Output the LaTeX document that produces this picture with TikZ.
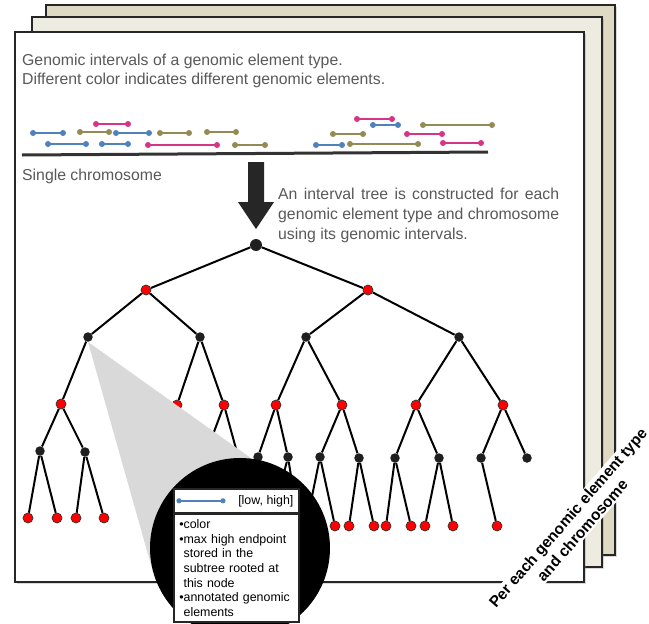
\documentclass[tikz,border=0pt]{standalone}
\usepackage{fontspec}
\setmainfont{Liberation Sans}
\usepackage{tikz}
\usetikzlibrary{positioning,shadows}

\definecolor{ivblue}{RGB}{79,129,189}
\definecolor{ivolive}{RGB}{148,138,84}
\definecolor{ivpink}{RGB}{214,52,134}
\definecolor{pagetan}{RGB}{221,217,195}
\definecolor{pagecream}{RGB}{238,236,225}
\definecolor{textgray}{RGB}{89,89,89}
\definecolor{conegray}{RGB}{217,217,217}
\definecolor{arrowgray}{RGB}{38,38,38}

\begin{document}
\begin{tikzpicture}[x=1pt,y=-1pt,
   page/.style={draw=black!85,line width=1.8pt,
     drop shadow={shadow xshift=1.5pt,shadow yshift=-1.5pt,opacity=.3}},
   caption/.style={anchor=north west,inner sep=0pt,text=textgray,
     font=\fontsize{15.8}{19}\selectfont},
   ival/.style={line width=2pt},
   branch/.style={line width=2pt},
   rednode/.style={circle,draw=black!80,fill=red,line width=.7pt,
     inner sep=0pt,minimum size=10pt},
   blacknode/.style={circle,fill=black!88,inner sep=0pt,minimum size=9.5pt},
   infobox/.style={draw=black!85,fill=white,line width=1.6pt,
     font=\fontsize{12.4}{14.7}\selectfont},
   tag/.style={rotate=49,fill=white,align=center,inner sep=1.5pt,
     font=\bfseries\fontsize{15.5}{19}\selectfont}]

\useasboundingbox (0,0) rectangle (649,624);
\clip (0,0) rectangle (649,624);

% stack of pages, one per element type and chromosome
\draw[page,fill=pagetan]   (46,5)  rectangle (615,555);
\draw[page,fill=pagecream] (32,17) rectangle (602,567);
\draw[page,fill=white]     (15,32) rectangle (584,582);

\node[caption,align=left] (title) at (22,54)
   {Genomic intervals of a genomic element type.\\
    Different color indicates different genomic elements.};

% intervals above the chromosome: low/high/level/colour
\foreach \a/\b/\h/\c in {33/63/133/ivblue, 48/86/144/ivblue, 80/109/132/ivolive,
      96/128/124/ivpink, 116/149/133/ivblue, 102/128/144/ivblue,
      160/189/133/ivolive, 148/217/145/ivpink, 207/236/132/ivolive,
      235/265/145/ivolive, 357/392/119/ivpink, 373/398/125/ivblue,
      423/492/125/ivolive, 333/363/134/ivolive, 407/442/134/ivpink,
      316/342/145/ivblue, 350/418/144/ivolive, 443/481/143/ivpink}
{
   \draw[ival,\c] (\a,\h) -- (\b,\h);
   \fill[\c] (\a,\h) circle[radius=3pt] (\b,\h) circle[radius=3pt];
}
\draw[line width=3pt,black!80] (22,155) -- (488,152);
\node[caption] (chrom) at (22,169) {Single chromosome};

% big arrow down to the tree
\fill[arrowgray] (248,162) -- (264,162) -- (264,202) -- (274,202)
   -- (256,229) -- (238,202) -- (248,202) -- cycle;
\node[caption,text width=281pt,align=justify,
   font=\fontsize{15.8}{20}\selectfont] (build) at (278,188)
   {An interval tree is constructed for each\linebreak
    genomic element type and chromosome\linebreak
    using its genomic intervals.};

% the interval tree
\node[blacknode,minimum size=12pt] (v0) at (256,245) {};
\foreach \n/\x/\y in {3/88/337, 4/200/337, 5/306/337, 6/459/337,
      14/40/451, 15/85/452, 16/238/456, 17/258/457, 18/288/457,
      19/320/457, 20/359/458, 21/395/458, 22/439/458, 23/481/458, 24/527/458}
   \node[blacknode] (v\n) at (\x,\y) {};
\foreach \n/\x/\y in {1/146/290, 2/368/290, 7/61/404, 8/177/405, 9/224/405,
      10/276/405, 11/342/405, 12/416/405, 13/503/405,
      25/28/518, 26/57/518, 27/76/518, 28/104/518, 29/335/526, 30/349/526,
      31/374/526, 32/386/526, 33/411/526, 34/425/526, 35/453/526, 36/497/526}
   \node[rednode] (v\n) at (\x,\y) {};
\coordinate (h1) at (205,456);
\coordinate (h2) at (272,520);
\coordinate (h3) at (298,520);
\coordinate (h4) at (306,526);

\path[branch]
   (v0)  edge (v1)  edge (v2)
   (v1)  edge (v3)  edge (v4)
   (v2)  edge (v5)  edge (v6)
   (v3)  edge (v7)
   (v4)  edge (v8)  edge (v9)
   (v5)  edge (v10) edge (v11)
   (v6)  edge (v12) edge (v13)
   (v7)  edge (v14) edge (v15)
   (v9)  edge (h1)  edge (v16)
   (v10) edge (v17) edge (v18)
   (v11) edge (v19) edge (v20)
   (v12) edge (v21) edge (v22)
   (v13) edge (v23) edge (v24)
   (v14) edge (v25) edge (v26)
   (v15) edge (v27) edge (v28)
   (v18) edge (h2)  edge (h3)
   (v19) edge (h4)  edge (v29)
   (v20) edge (v30) edge (v31)
   (v21) edge (v32) edge (v33)
   (v22) edge (v34) edge (v35)
   (v23) edge (v36);

% zoom onto one tree node
\fill[conegray] (v3.south) -- (153,572) -- (262,466) -- cycle;
\fill[black] (240,548) circle[radius=90pt];

\node[infobox,minimum width=125pt,minimum height=24pt,anchor=north west]
   (head) at (173,488) {};
\draw[ival,ivblue] ([xshift=6pt]head.west) -- ([xshift=50pt]head.west);
\fill[ivblue] ([xshift=6pt]head.west) circle[radius=2.6pt]
   ([xshift=50pt]head.west) circle[radius=2.6pt];
\node[anchor=east,inner sep=0pt,font=\fontsize{12.4}{14.7}\selectfont]
   (range) at ([xshift=-6pt]head.east) {[low, high]};
\node[infobox,below right=0pt of head.south west,text width=114pt,
   inner xsep=5.5pt,inner ysep=5pt,align=left] (notes)
   {\textbullet color\\
    \textbullet max high endpoint\\
    \phantom{\textbullet}stored in the\\
    \phantom{\textbullet}subtree rooted at\\
    \phantom{\textbullet}this node\\
    \textbullet annotated genomic\\
    \phantom{\textbullet}elements};

\node[tag] (per) at (575,524) {Per each genomic element type\\and chromosome};
\end{tikzpicture}
\end{document}
